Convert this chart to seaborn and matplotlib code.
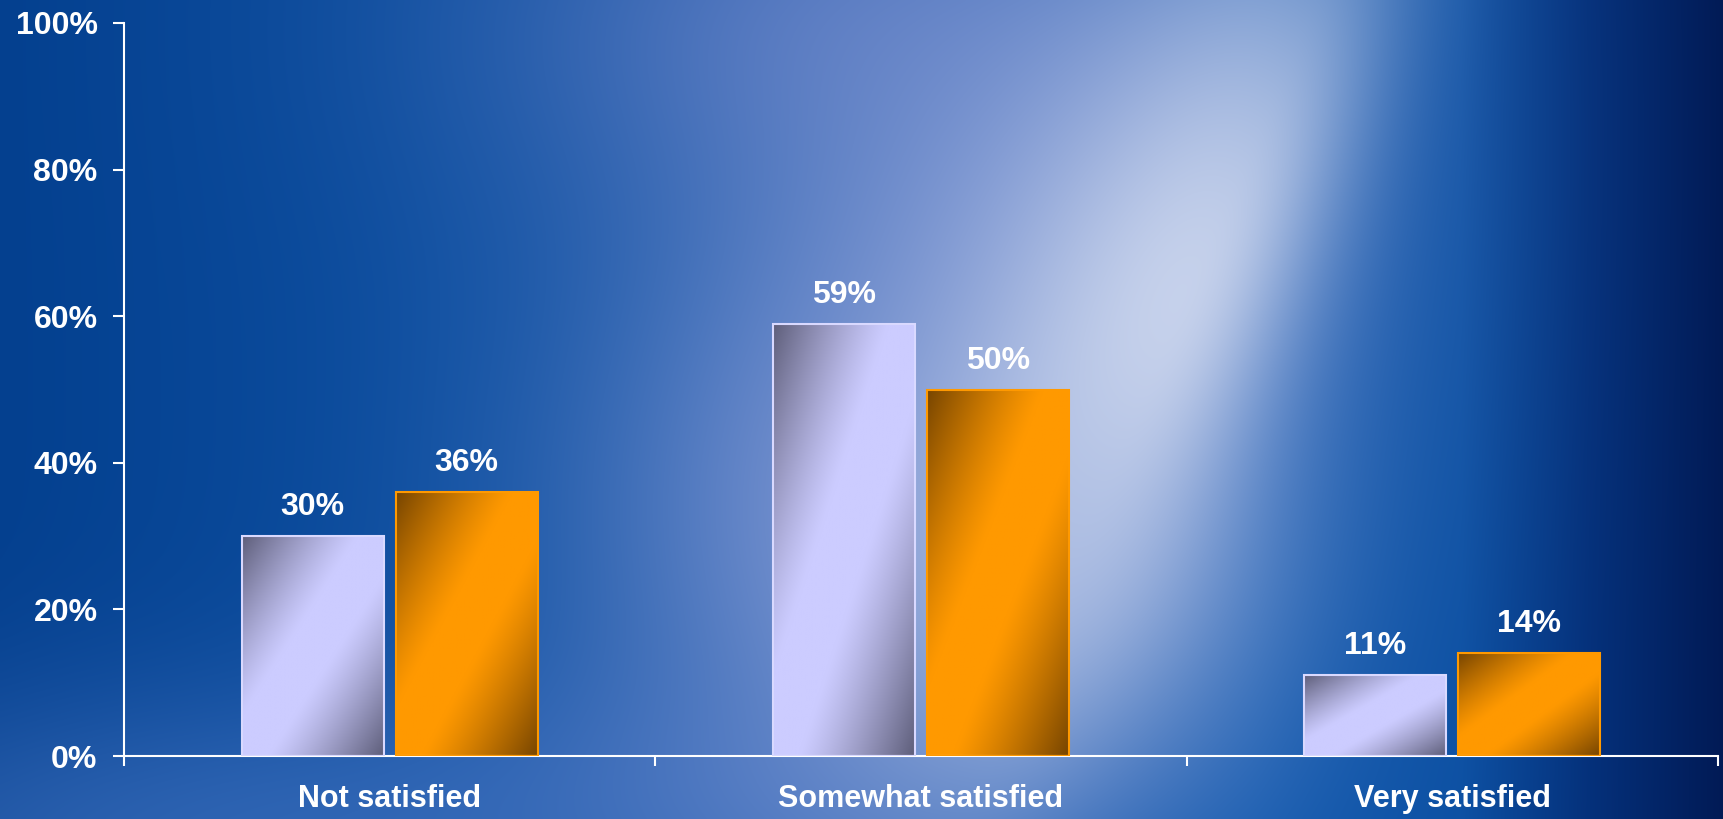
import numpy as np
import pandas as pd
import matplotlib
matplotlib.use("Agg")
import matplotlib.pyplot as plt
import seaborn as sns
from matplotlib.colors import to_rgb
from matplotlib.ticker import FixedLocator

# ---- data ----
categories = ["Not satisfied", "Somewhat satisfied", "Very satisfied"]
series_names = ["Series 1", "Series 2"]
series_1 = [30, 59, 11]
series_2 = [36, 50, 14]
y_ticks = [0, 20, 40, 60, 80, 100]
y_tick_labels = ["0%", "20%", "40%", "60%", "80%", "100%"]

df = pd.DataFrame({
    "category": categories * 2,
    "series": [series_names[0]] * len(categories) + [series_names[1]] * len(categories),
    "value": series_1 + series_2,
})

sns.set_theme(style="white")
plt.rcParams["font.family"] = ["Liberation Sans", "DejaVu Sans"]

W, H = 1723, 819
fig = plt.figure(figsize=(W / 100, H / 100), dpi=100)

# ---- backdrop: blue field with a soft light glow ----
bg_ax = fig.add_axes([0, 0, 1, 1], zorder=0)
bg_ax.set_axis_off()
ny, nx = H // 2, W // 2
yy, xx = np.mgrid[0:ny, 0:nx]
X = xx * (W / nx)
Y = yy * (H / ny)

stops_x = [0, 450, 1250, 1460, 1590, 1723]
stops_c = ["#04408f", "#0a4d9f", "#0a55ab", "#0a4fa2", "#04307a", "#011a55"]
img = np.zeros((ny, nx, 3))
for k in range(3):
    img[..., k] = np.interp(X, stops_x, [to_rgb(c)[k] for c in stops_c])


def blend(img, cx, cy, sa, sb, color, peak, angle=0.0, sb_neg=None):
    ca, sn = np.cos(angle), np.sin(angle)
    dx, dy = X - cx, Y - cy
    u = dx * ca + dy * sn
    v = -dx * sn + dy * ca
    sbv = np.where(v < 0, sb if sb_neg is None else sb_neg, sb)
    a = peak * np.exp(-0.5 * ((u / sa) ** 2 + (v / sbv) ** 2))
    c = np.array(to_rgb(color))
    return img * (1 - a[..., None]) + c * a[..., None]


ang = np.arctan2(560 - 80, 1060 - 1270)
img = blend(img, 250, 840, 380, 110, "#4676c4", 0.6)
img = blend(img, 820, 800, 240, 90, "#4a74c2", 0.5)
img = blend(img, 900, 500, 230, 220, "#7790d0", 0.85)
img = blend(img, 860, 20, 260, 150, "#6d84c8", 0.7)
img = blend(img, 1050, 230, 200, 190, "#7f97d3", 0.75)
img = blend(img, 980, 380, 380, 160, "#7a92d0", 0.5, angle=ang)
img = blend(img, 1170, 320, 290, 130, "#cdd7ee", 0.95, angle=ang, sb_neg=75)
img = blend(img, 1100, 560, 130, 150, "#b2c1e5", 0.5)
bg_ax.imshow(np.clip(img, 0, 1), extent=(0, 1, 0, 1), aspect="auto",
             interpolation="bilinear", origin="upper")
bg_ax.set_xlim(0, 1)
bg_ax.set_ylim(0, 1)

# ---- main chart ----
ax = fig.add_axes([124 / W, 1 - 756 / H, (1718 - 124) / W, (756 - 23) / H], zorder=1)
ax.patch.set_alpha(0)

light = ["#ccccff", "#ff9900"]
dark = ["#5e5e7a", "#774500"]
edges = ["#d9d9ff", "#ff9900"]

sns.barplot(data=df, x="category", y="value", hue="series",
            order=categories, hue_order=series_names,
            palette=light, saturation=1, width=0.58, gap=0.08,
            legend=False, ax=ax)


def bar_gradient(c_light, c_dark, n=200):
    xs = np.linspace(0, 1, n)
    ys = np.linspace(1, 0, n)
    gx, gy = np.meshgrid(xs, ys)
    t = np.abs(gx - gy)
    w = np.clip((t - 0.18) / 0.82, 0, 1) ** 1.2
    cl = np.array(to_rgb(c_light))
    cd = np.array(to_rgb(c_dark))
    return cl * (1 - w[..., None]) + cd * w[..., None]


for i, cont in enumerate(ax.containers):
    grad = bar_gradient(light[i], dark[i])
    for bar in cont:
        x0, w, h = bar.get_x(), bar.get_width(), bar.get_height()
        ax.imshow(grad, extent=(x0, x0 + w, 0, h), origin="upper",
                  aspect="auto", interpolation="bilinear", zorder=2)
        bar.set_facecolor("none")
        bar.set_edgecolor(edges[i])
        bar.set_linewidth(1.5)
        bar.set_zorder(3)
    ax.bar_label(cont, labels=[f"{v:.0f}%" for v in cont.datavalues],
                 padding=10, color="white", fontsize=23, fontweight="bold")

ax.set_xlim(-0.5, len(categories) - 0.5)
ax.set_ylim(0, 100)
ax.set_yticks(y_ticks)
ax.set_yticklabels(y_tick_labels)
ax.set_xlabel("")
ax.set_ylabel("")

for side in ["top", "right"]:
    ax.spines[side].set_visible(False)
for side in ["left", "bottom"]:
    ax.spines[side].set_color("white")
    ax.spines[side].set_linewidth(1.5)

ax.xaxis.set_minor_locator(FixedLocator(np.arange(-0.5, len(categories), 1.0)))
ax.tick_params(axis="x", which="major", bottom=True, length=0, pad=20,
               labelsize=22, labelcolor="white")
ax.tick_params(axis="x", which="minor", bottom=True, direction="out",
               length=7, width=1.5, color="white")
ax.tick_params(axis="y", which="major", left=True, direction="out",
               length=8, width=1.5, color="white", pad=11,
               labelsize=23, labelcolor="white")
for lab in ax.get_xticklabels() + ax.get_yticklabels():
    lab.set_fontweight("bold")

fig.savefig("out.png", dpi=100)
